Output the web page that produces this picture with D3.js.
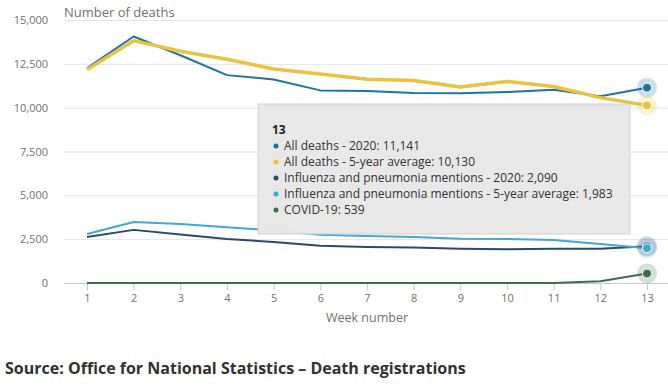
<!DOCTYPE html>
<html>
<head>
<meta charset="utf-8">
<script src="https://cdn.jsdelivr.net/npm/d3@7"></script>
<style>
  body { margin: 0; background: #fff; font-family: "Open Sans", sans-serif; }
  svg text { font-family: "Open Sans", sans-serif; }
</style>
</head>
<body>
<div id="chart"></div>
<script>
// data
const weeks = [1, 2, 3, 4, 5, 6, 7, 8, 9, 10, 11, 12, 13];
const allDeaths2020 = [12254, 14058, 12990, 11856, 11612, 10986, 10944, 10841, 10816, 10895, 11019, 10645, 11141];
const allDeathsAvg = [12175, 13822, 13216, 12760, 12206, 11925, 11627, 11548, 11183, 11498, 11205, 10573, 10130];
const flu2020 = [2630, 3030, 2760, 2510, 2340, 2120, 2060, 2030, 1950, 1920, 1950, 1950, 2090];
const fluAvg = [2790, 3480, 3370, 3180, 3000, 2750, 2680, 2630, 2520, 2510, 2450, 2230, 1983];
const covid = [0, 0, 0, 0, 0, 0, 0, 0, 0, 0, 5, 103, 539];
const yTicks = [0, 2500, 5000, 7500, 10000, 12500, 15000];

const series = [
  { name: "All deaths - 2020", values: allDeaths2020, color: "#1d74a0", width: 2 },
  { name: "All deaths - 5-year average", values: allDeathsAvg, color: "#e9c23f", width: 3.5 },
  { name: "Influenza and pneumonia mentions - 2020", values: flu2020, color: "#2b4a6a", width: 2 },
  { name: "Influenza and pneumonia mentions - 5-year average", values: fluAvg, color: "#3ea9d6", width: 2 },
  { name: "COVID-19", values: covid, color: "#3b6e4d", width: 2 },
];

const [W, H] = [668, 392];
const svg = d3.select("#chart").append("svg").attr("width", W).attr("height", H);

const x = d3.scaleLinear().domain([1, 13]).range([87, 647]);
const y = d3.scaleLinear().domain([0, 15000]).range([283, 20]);
const fmt = d3.format(",");

// gridlines and y labels
const yAxis = svg.append("g").attr("transform", "translate(64,0)")
  .call(d3.axisLeft(y).tickValues(yTicks).tickSize(-(W - 64)).tickFormat(fmt).tickPadding(16));
yAxis.select(".domain").remove();
yAxis.selectAll(".tick line").attr("stroke", (d) => d === 0 ? "#c8c8c8" : "#e4e4e4");
yAxis.selectAll(".tick text").attr("fill", "#707070").style("font-size", "11px");

// x axis
const xAxis = svg.append("g").attr("transform", "translate(0,283)")
  .call(d3.axisBottom(x).tickValues(weeks).tickSize(7).tickPadding(4).tickFormat(d3.format("d")));
xAxis.select(".domain").remove();
xAxis.selectAll(".tick line").attr("stroke", "#c8c8c8");
xAxis.selectAll(".tick text").attr("fill", "#707070").style("font-size", "11px");

svg.append("text").attr("x", 64).attr("y", 17).attr("fill", "#707070")
  .style("font-size", "13px").text("Number of deaths");
svg.append("text").attr("x", 367).attr("y", 322).attr("text-anchor", "middle").attr("fill", "#707070")
  .style("font-size", "12.5px").text("Week number");

// lines
const line = d3.line().x((d, i) => x(weeks[i])).y((d) => y(d));
series.forEach((s) => {
  svg.append("path").datum(s.values).attr("fill", "none")
    .attr("stroke", s.color).attr("stroke-width", s.width)
    .attr("stroke-linejoin", "round").attr("d", line);
});

// hover markers on last week
const last = weeks.length - 1;
series.forEach((s) => {
  svg.append("circle").attr("cx", x(weeks[last])).attr("cy", y(s.values[last]))
    .attr("r", 10).attr("fill", s.color).attr("opacity", 0.22);
  svg.append("circle").attr("cx", x(weeks[last])).attr("cy", y(s.values[last]))
    .attr("r", 4.5).attr("fill", s.color).attr("stroke", "#fff").attr("stroke-width", 1);
});

// tooltip
const tip = svg.append("g").attr("transform", "translate(258,104)");
tip.append("rect").attr("width", 372).attr("height", 130)
  .attr("fill", "#e8e8e8").attr("stroke", "#cfcfcf").attr("opacity", 0.97);
tip.append("text").attr("x", 14).attr("y", 30).attr("fill", "#222")
  .style("font-size", "12px").style("font-weight", "bold").text(weeks[last]);
series.forEach((s, i) => {
  const ty = 46 + i * 16;
  tip.append("circle").attr("cx", 18).attr("cy", ty - 4).attr("r", 2.5).attr("fill", s.color);
  tip.append("text").attr("x", 26).attr("y", ty).attr("fill", "#333")
    .style("font-size", "12px").text(`${s.name}: ${fmt(s.values[last])}`);
});

// source
svg.append("text").attr("x", 5).attr("y", 374).attr("fill", "#323132")
  .style("font-size", "16px").style("font-weight", "bold")
  .text("Source: Office for National Statistics \u2013 Death registrations");
</script>
</body>
</html>
